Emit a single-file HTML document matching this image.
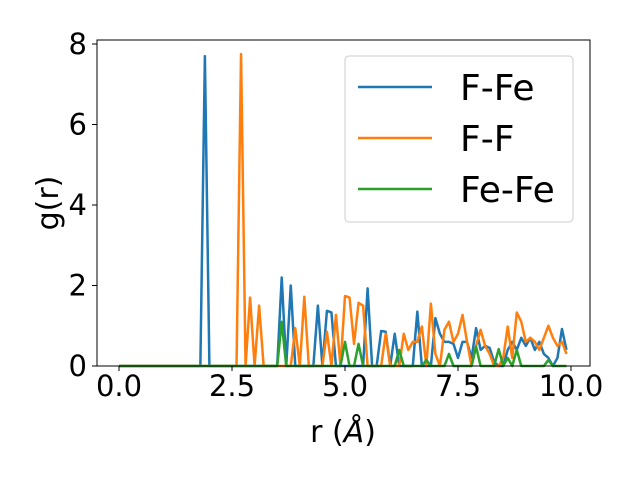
<!DOCTYPE html>
<html><head><meta charset="utf-8"><style>
html,body{margin:0;padding:0;background:#fff;width:640px;height:480px;overflow:hidden}
svg{font-family:"DejaVu Sans","Liberation Sans",sans-serif}
</style></head><body>
<svg id="c" width="640" height="480"></svg>
<script>
const rValues = Array.from({length:100},(_,i)=>+(i*0.1).toFixed(1));
const fFe = [0,0,0,0,0,0,0,0,0,0, 0,0,0,0,0,0,0,0,0,7.7, 0,0,0,0,0,0,0,0,0,0, 0,0,0,0,0,0,2.2,0,2.0,0, 0,0,0,0,1.5,0,1.37,1.33,0,0, 0,0,0,0,0,1.93,0,0,0.87,0.85, 0,0.8,0,0,0,0,1.35,0,0,0, 1.19,0.8,0.6,0.6,0.55,0.2,0.6,0.6,0.2,0.94, 0.4,0.5,0.45,0.1,0,0,0.4,0.6,0.4,0.7, 0.5,0.7,0.4,0.6,0.3,0.2,0,0.2,0.92,0.4];
const fF = [0,0,0,0,0,0,0,0,0,0, 0,0,0,0,0,0,0,0,0,0, 0,0,0,0,0,0,0,7.75,0,1.7, 0,1.5,0,0,0,0,0,0,0,0.94, 0,1.72,0,0,0,0,0.85,0,1.27,0, 1.74,1.7,0.55,1.57,1.5,0,0,0,0,0.8, 0,0,0,0.8,0.4,0.6,0.6,0.98,0,1.55, 0.3,0,0.9,1.1,0.6,0.8,1.27,0.6,0,0.5, 0.9,0.5,0.3,0,0,0.2,0.98,0.2,1.33,1.1, 0.6,0.7,0.6,0.4,0.7,1.0,0.7,0.5,0.6,0.3];
const feFe = [0,0,0,0,0,0,0,0,0,0, 0,0,0,0,0,0,0,0,0,0, 0,0,0,0,0,0,0,0,0,0, 0,0,0,0,0,0,1.1,0,0,0, 0,0,0,0,0,0,0,0,0,0, 0.6,0,0,0.55,0,0,0,0,0,0, 0,0,0.4,0,0,0,0,0,0.15,0, 0,0,0,0.3,0,0,0,0,0,0.48, 0,0,0,0,0.42,0,0.2,0,0.4,0, 0,0,0,0,0,0.15,0,0,0,0];
const xTicks = [0,2.5,5,7.5,10];
const xTickLabels = ["0.0","2.5","5.0","7.5","10.0"];
const yTicks = [0,2,4,6,8];
const seriesNames = ["F-Fe","F-F","Fe-Fe"];
const colors = ["#1f77b4","#ff7f0e","#2ca02c"];

const L=97,R=590,T=40,B=366;
const xs=v=>119+v*45.2;
const ys=v=>366-v*40.25;
const svg=document.getElementById('c');
const NS='http://www.w3.org/2000/svg';
function mk(t,a,p){const e=document.createElementNS(NS,t);for(const k in a)e.setAttribute(k,a[k]);(p||svg).appendChild(e);return e;}

[fFe,fF,feFe].forEach((s,si)=>{
  const p=mk('polyline',{points:s.map((v,i)=>xs(rValues[i])+','+ys(v)).join(' '),fill:'none',stroke:colors[si],'stroke-width':2.5,'stroke-linejoin':'round'});
  
  
});
const frame=mk('rect',{x:L,y:T,width:R-L,height:B-T,fill:'none',stroke:'#000','stroke-width':1});



xTicks.forEach((v,i)=>{
  mk('line',{x1:xs(v),x2:xs(v),y1:B,y2:B+5,stroke:'#000'});
  const t=mk('text',{x:xs(v),y:B+30,'font-size':29,'text-anchor':'middle'});
  t.textContent=xTickLabels[i];
  
  
});
yTicks.forEach(v=>{
  mk('line',{x1:L-5,x2:L,y1:ys(v),y2:ys(v),stroke:'#000'});
  const t=mk('text',{x:L-10,y:ys(v)+10,'font-size':29,'text-anchor':'end'});
  t.textContent=v;
  
  
});
const xt=mk('text',{x:343,y:442,'font-size':30,'text-anchor':'middle'});
xt.innerHTML='r (<tspan font-style="italic">Å</tspan>)';


const yt=mk('text',{x:58,y:203,'font-size':30,'text-anchor':'middle',transform:'rotate(-90 58 203)'});
yt.textContent='g(r)';



const lg=mk('g',{});


mk('rect',{x:345,y:56,width:228,height:166,rx:4,fill:'#fff','fill-opacity':0.8,stroke:'#ccc'},lg);
seriesNames.forEach((n,i)=>{
  const y=87+i*51;
  const e=mk('g',{},lg);
  
  
  mk('line',{x1:358,x2:432,y1:y,y2:y,stroke:colors[i],'stroke-width':2.5},e);
  const t=mk('text',{x:460,y:y+13,'font-size':36},e);
  t.textContent=n;
});
</script>
</body></html>
